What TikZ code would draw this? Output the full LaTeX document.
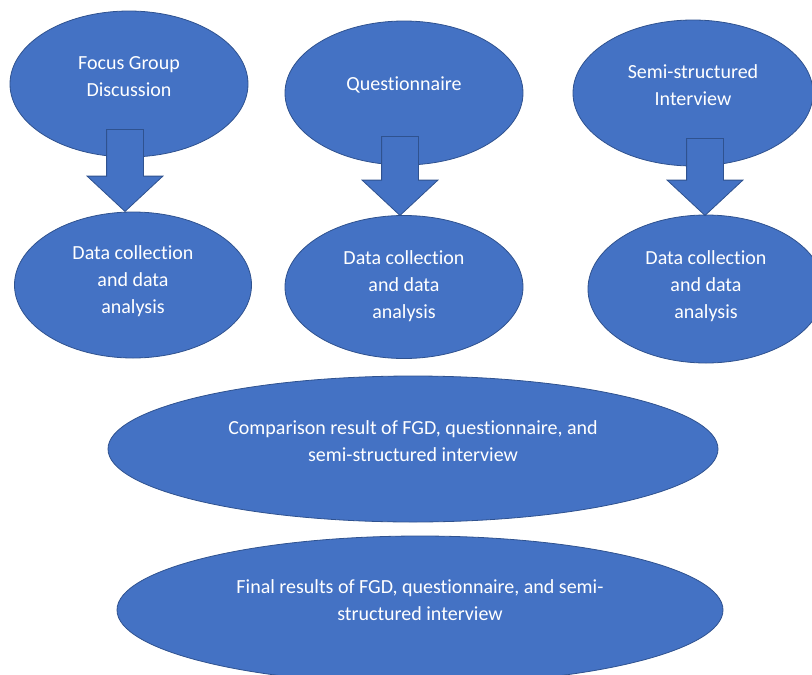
\documentclass[tikz,border=0pt]{standalone}
\usepackage{fontspec}
\setmainfont{Carlito}[Ligatures=NoCommon]
\usepackage{xcolor}
\definecolor{wdblue}{RGB}{68,114,196}
\definecolor{wdline}{RGB}{47,82,143}
\usetikzlibrary{shapes.geometric,shapes.arrows,positioning,calc}
\tikzset{
  oval/.style={ellipse, fill=wdblue, draw=wdline, line width=0.8pt, inner sep=0pt},
  txt/.style={text=white, align=center, font=\fontsize{20}{27}\selectfont},
  downarrow/.style={single arrow, fill=wdblue, draw=wdline, line width=0.8pt, rotate=-90,
    inner xsep=0pt, inner ysep=18pt, single arrow head extend=19.5pt,
    single arrow tip angle=94, anchor=tip}
}

\begin{document}
\begin{tikzpicture}[x=1pt,y=-1pt]
  \useasboundingbox (0,0) rectangle (812,675);

  % Methods
  \node[oval, minimum width=238pt, minimum height=146pt] (fgd) at (129,84) {};
  \node[oval, minimum width=238pt, minimum height=144pt] (quest) at (404,93) {};
  \node[oval, minimum width=240pt, minimum height=146pt] (semi) at (693,93) {};
  \node[txt] at ($(fgd)+(0,-7)$) {Focus Group\\Discussion};
  \node[txt] at ($(quest)+(0,-8)$) {Questionnaire};
  \node[txt] at ($(semi)+(0,-8)$) {Semi-structured\\Interview};

  % Data collection and analysis
  \node[oval, minimum width=237pt, minimum height=146pt] (dca) at (133,285) {};
  \node[oval, minimum width=238pt, minimum height=143pt] (dcb) at (404,287) {};
  \node[oval, minimum width=236pt, minimum height=148pt] (dcc) at (706,289) {};
  \node[txt] at ($(dca)+(0,-4)$) {Data collection\\and data\\analysis};
  \node[txt] at ($(dcb)+(0,-1)$) {Data collection\\and data\\analysis};
  \node[txt] at ($(dcc)+(0,-3)$) {Data collection\\and data\\analysis};

  % Block arrows
  \node[downarrow, minimum height=82pt] (arra) at (125,212) {};
  \node[downarrow, minimum height=79pt] (arrb) at (400,216) {};
  \node[downarrow, minimum height=77pt] (arrc) at (705,216) {};

  % Comparison and final results
  \node[oval, minimum width=610pt, minimum height=146pt] (comp) at (413,449) {};
  \node[txt] at ($(comp)+(0,-8)$) {Comparison result of FGD, questionnaire, and\\semi-structured interview};
  \node[oval, minimum width=606pt, minimum height=148pt] (final) at (420,610) {};
  \node[txt] at ($(final)+(0,-10)$) {Final results of FGD, questionnaire, and semi-\\structured interview};
\end{tikzpicture}
\end{document}
